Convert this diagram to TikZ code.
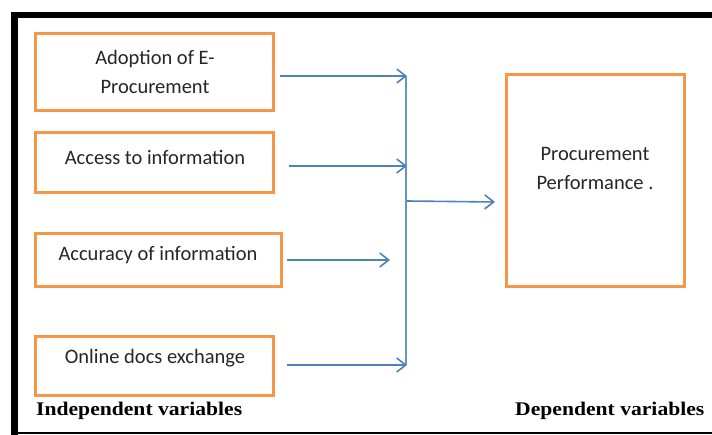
\documentclass[tikz,border=0pt]{standalone}
\usepackage{fontspec}
\setmainfont{Carlito}
\newfontfamily\labfont[FakeStretch=1.12]{Liberation Serif}
\usetikzlibrary{arrows.meta,calc}
\definecolor{boxorange}{HTML}{F79646}
\definecolor{arrowblue}{HTML}{4F81BD}
\definecolor{txtgray}{HTML}{262626}
\tikzset{
  varbox/.style={draw=boxorange, line width=3pt, fill=white, inner sep=0pt},
  boxtext/.style={text=txtgray, font=\fontsize{20.5}{29}\selectfont, align=center, inner sep=0pt},
  varlabel/.style={font=\labfont\bfseries\fontsize{19.3}{22}\selectfont, text=black, inner sep=0pt, anchor=base west},
  flow/.style={draw=arrowblue, line width=1.6pt, -{Straight Barb[length=9pt,width=14pt,line width=1.6pt]}},
  bus/.style={draw=arrowblue!85, line width=1.6pt},
  frame/.style={draw=black}
}
\begin{document}
\begin{tikzpicture}[x=1pt,y=-1pt]
\useasboundingbox (0,0) rectangle (712,435);
% frame
\draw[frame, line width=6pt] (11,15) -- (712,15);
\draw[frame, line width=7pt] (14.5,12) -- (14.5,435);
\draw[frame, line width=1.5pt] (18,433) -- (712,433);
% boxes
\node[varbox, minimum width=238pt, minimum height=77pt] (b1) at (154,72.5) {};
\node[varbox, minimum width=238pt, minimum height=60pt] (b2) at (154,163) {};
\node[varbox, minimum width=246pt, minimum height=53pt] (b3) at (158,260.5) {};
\node[varbox, minimum width=238pt, minimum height=58pt] (b4) at (154,366) {};
\node[varbox, minimum width=178pt, minimum height=212pt] (dv) at (595,181) {};
% box texts
\node[boxtext] (t1) at (155,72) {Adoption of E-\\Procurement};
\node[boxtext] (t2) at (155,157) {Access to information};
\node[boxtext] (t3) at (158,255) {Accuracy of information};
\node[boxtext] (t4) at (155,358) {Online docs exchange};
\node[boxtext] (t5) at (595,169) {Procurement\\Performance .};
% labels
\node[varlabel] (iv) at (36,415) {Independent variables};
\node[varlabel] (dl) at (515,415) {Dependent variables};
% connector points
\coordinate (s1) at (280,76);
\coordinate (e1) at (407,76);
\coordinate (s2) at (289,166);
\coordinate (e2) at (407,166);
\coordinate (s3) at (287,260);
\coordinate (e3) at (390,260);
\coordinate (s4) at (287,365);
\coordinate (e4) at (407,365);
\coordinate (bt) at (406,76);
\coordinate (bb) at (406,365);
\coordinate (sm) at (407,201);
\coordinate (em) at (495,202);
% connectors
\draw[bus] (bt) -- (bb);
\draw[flow] (s1) -- (e1);
\draw[flow] (s2) -- (e2);
\draw[flow] (s3) -- (e3);
\draw[flow] (s4) -- (e4);
\draw[flow] (sm) -- (em);
\end{tikzpicture}
\end{document}
